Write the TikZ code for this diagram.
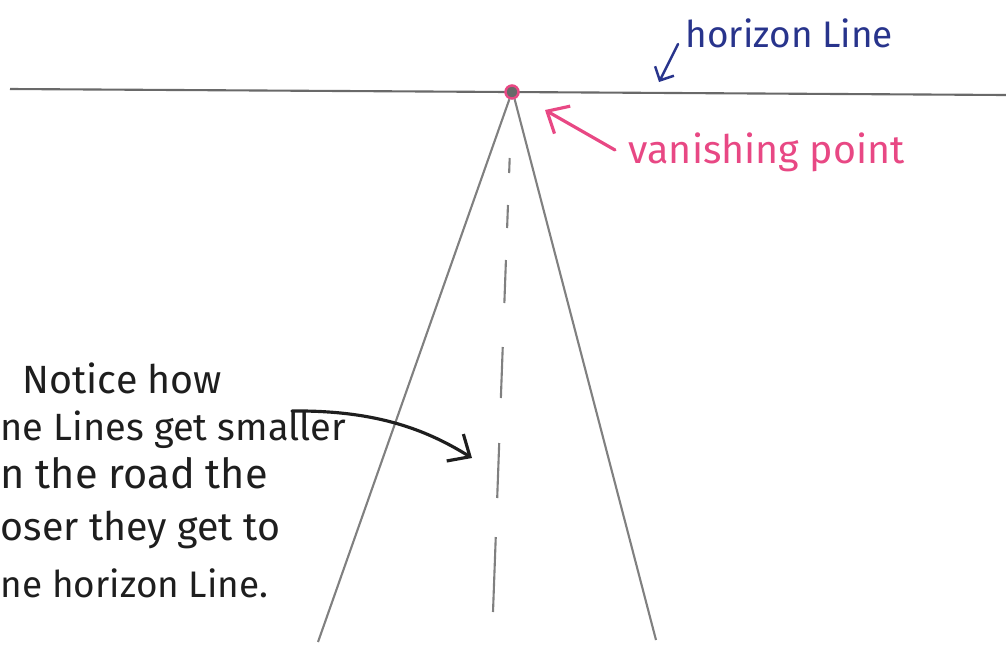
\documentclass[tikz,border=0pt]{standalone}
\usepackage{fontspec}
\setmainfont{Fira Sans}
\usetikzlibrary{arrows.meta,positioning}
\definecolor{roadgrey}{RGB}{128,128,128}
\definecolor{skygrey}{RGB}{105,105,105}
\definecolor{blueink}{RGB}{40,52,140}
\definecolor{pinkink}{RGB}{232,72,132}
\definecolor{pencil}{RGB}{30,30,30}

\begin{document}
\begin{tikzpicture}[x=0.01cm, y=-0.01cm,
        road/.style={draw=roadgrey, line width=0.6pt},
        hand/.style={inner sep=0pt, anchor=base west, text=pencil, font=\fontsize{11.2}{14}\selectfont},
        pointer/.style={line width=0.9pt, line cap=round, -{Straight Barb[length=5pt, width=9pt]}}]

    \useasboundingbox (0,0) rectangle (1006,645);

    % horizon and vanishing point
    \coordinate (hleft) at (10,89);
    \coordinate (hright) at (1006,95);
    \draw[draw=skygrey, line width=0.6pt] (hleft) -- (hright);
    \node[circle, draw=pinkink, fill=skygrey, line width=0.7pt, minimum size=0.13cm, inner sep=0pt] (vp) at (512,92) {};

    % road edges and centre line
    \coordinate (roadL) at (318,642);
    \coordinate (roadR) at (656,640);
    \draw[road] (vp.250) -- (roadL);
    \draw[road] (vp.290) -- (roadR);
    \foreach \ya/\yb in {158/173, 205/228, 260/303, 347/398, 443/498, 537/612}
        \draw[road] ({512-19*(\ya-95)/517},\ya) -- ({512-19*(\yb-95)/517},\yb);

    % labels
    \node[hand, text=blueink, font=\fontsize{10.5}{12}\selectfont] (horizon) at (685,47) {horizon Line};
    \node[hand, text=pinkink] (vpnote) at (628,163) {vanishing point};

    \node[hand] (note1) at (22,393) {Notice how};
    \node[hand, font=\fontsize{10.8}{14}\selectfont] (note2) at (0,440) {ne Lines get smaller};
    \node[hand, font=\fontsize{11.8}{14}\selectfont] (note3) at (0,488) {n the road the};
    \node[hand] (note4) at (0,540) {oser they get to};
    \node[hand, font=\fontsize{10.5}{14}\selectfont] (note5) at (0,597) {ne horizon Line.};

    % pointers
    \coordinate (htail) at (678,44);
    \coordinate (htip) at (659,82);
    \draw[pointer, blueink, line width=0.7pt, -{Straight Barb[length=3pt, width=6pt]}] (htail) -- (htip);

    \coordinate (vptail) at (615,150);
    \coordinate (vptip) at (545,110);
    \draw[pointer, pinkink] (vptail) -- (vptip);

    \coordinate (notetail) at (292,411);
    \coordinate (notetip) at (472,458);
    \draw[pointer, pencil] (notetail) .. controls (380,410) and (430,432) .. (notetip);

\end{tikzpicture}
\end{document}
